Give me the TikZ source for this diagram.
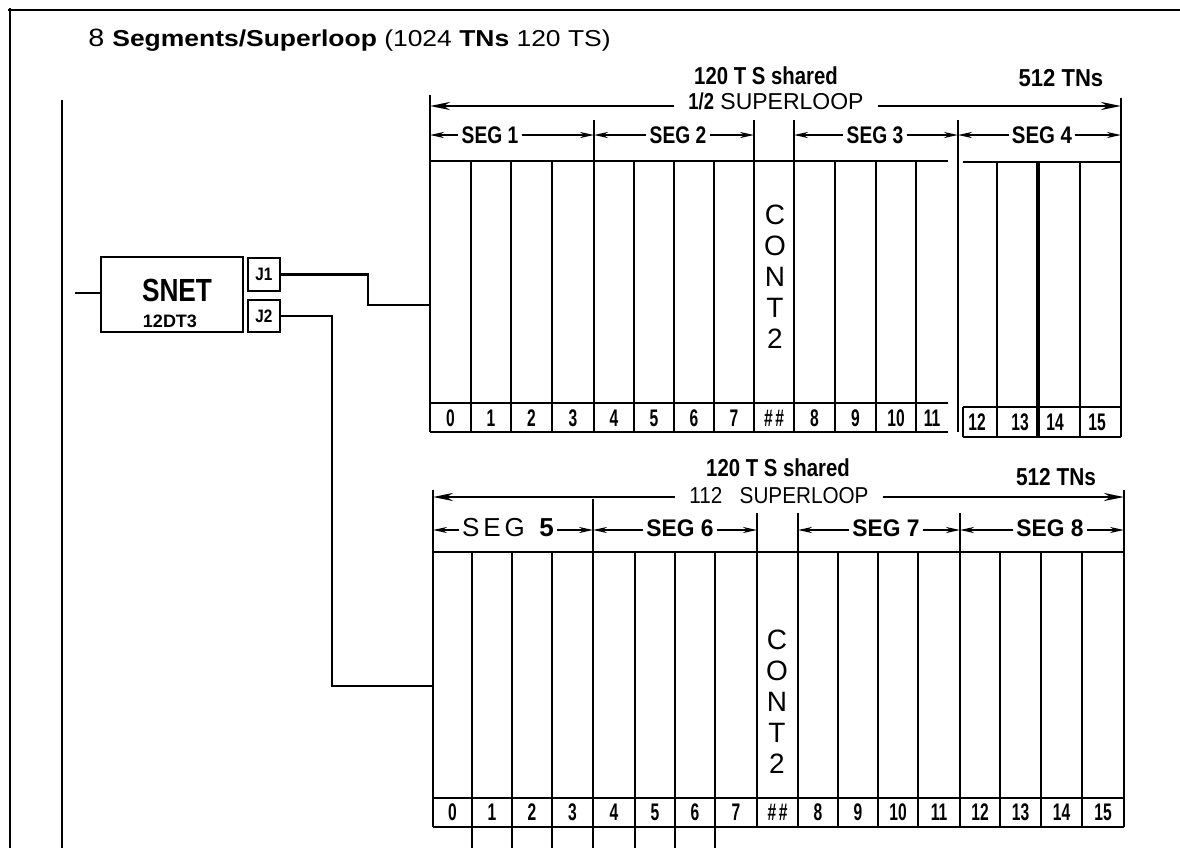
\documentclass[tikz,border=0pt]{standalone}
\usepackage{fontspec}
\setmainfont{Liberation Sans}
\usetikzlibrary{arrows.meta}
\newcommand\sx[2]{\scalebox{#1}[1]{#2}}
\begin{document}
\begin{tikzpicture}[x=0.5pt,y=-0.5pt,
  rack/.style={line width=1.4pt},
  thinrack/.style={line width=1.0pt},
  wire/.style={line width=1.1pt},
  frame/.style={line width=1.1pt},
  segarr/.style={line width=1pt,-{Stealth[length=7pt,width=3pt]}},
  bigarr/.style={line width=1.3pt,-{Stealth[length=10pt,width=4pt]}},
  biglbl/.style={inner xsep=7pt,inner ysep=0pt,font=\fontsize{11.5}{12}\selectfont},
  seglbl/.style={inner sep=1.5pt,font=\fontsize{12}{13}\selectfont\bfseries},
  numlbl/.style={inner sep=0pt,font=\fontsize{12}{13}\selectfont\bfseries},
  hdr/.style={inner sep=0pt,font=\fontsize{12.25}{13}\selectfont\bfseries},
  contlbl/.style={align=center,inner sep=0pt,font=\fontsize{14}{15.5}\selectfont},
  box/.style={draw,line width=1.3pt,inner sep=0pt}
]
\useasboundingbox (0,0) rectangle (1180,848);

% frame
\draw[frame] (8,10) -- (1180,10);
\draw[frame] (10,8) -- (10,848);
\draw[frame] (62,100) -- (62,848);

% title
\node[anchor=base west,inner sep=0pt,font=\fontsize{11.5}{12}\selectfont] (title) at (88,46)
  {\sx{1.15}{\fontsize{12.5}{13}\selectfont 8 \fontsize{11.5}{12}\selectfont\textbf{Segments/Superloop} (1024 \textbf{TNs} 120 TS)}};

% ---------- SNET ----------
\node[box,minimum width=71pt,minimum height=37.5pt] (snet) at (172,294.5) {};
\node[inner sep=0pt,font=\fontsize{16}{17}\selectfont\bfseries] (snett) at (177,290) {\sx{0.82}{SNET}};
\node[inner sep=0pt,font=\fontsize{9}{10}\selectfont\bfseries] (snets) at (170,321.5) {12DT3};
\node[box,minimum width=16pt,minimum height=16.5pt,font=\fontsize{9}{10}\selectfont\bfseries] (j1) at (264,274.5) {\sx{0.85}{J1}};
\node[box,minimum width=16pt,minimum height=16pt,font=\fontsize{9}{10}\selectfont\bfseries] (j2) at (264,316) {\sx{0.85}{J2}};
\coordinate (snetin) at (75,293);
\draw[wire] (snetin) -- (snet.west |- snetin);

% ---------- TOP RACK ----------
\node[hdr] (h1) at (766,76) {\sx{0.83}{120 T S shared}};
\node[hdr] (h2) at (1061,78) {\sx{0.9}{512 TNs}};
\node[biglbl] (sl1) at (776,101) {\sx{0.8}{\bfseries 1/2} SUPERLOOP};
\coordinate (a1l) at (430,106);
\coordinate (a1r) at (1121,106);
\draw[bigarr] (sl1.west |- a1l) -- (a1l);
\draw[bigarr] (sl1.east |- a1r) -- (a1r);

% segment labels
\node[seglbl] (sg1) at (490,135) {\sx{0.8}{SEG 1}};
\node[seglbl] (sg2) at (678,135) {\sx{0.8}{SEG 2}};
\node[seglbl] (sg3) at (875,135) {\sx{0.8}{SEG 3}};
\node[seglbl] (sg4) at (1042,135) {\sx{0.85}{SEG 4}};
\coordinate (t0) at (430,135);
\coordinate (t1) at (594,135);
\coordinate (t2) at (754,135);
\coordinate (t3) at (794,135);
\coordinate (t4) at (958,135);
\coordinate (t5) at (1121,135);
\draw[segarr] (sg1.west) -- (t0);
\draw[segarr] (sg1.east) -- (t1);
\draw[segarr] (sg2.west) -- (t1);
\draw[segarr] (sg2.east) -- (t2);
\draw[segarr] (sg3.west) -- (t3);
\draw[segarr] (sg3.east) -- (t4);
\draw[segarr] (sg4.west) -- (t4);
\draw[segarr] (sg4.east) -- (t5);

% rack lines
\draw[rack] (430,95) -- (430,432);
\draw[rack] (594,120) -- (594,432);
\draw[rack] (754,120) -- (754,432);
\draw[rack] (794,120) -- (794,432);
\draw[thinrack] (958,120) -- (958,432);
\draw[rack] (1121,98) -- (1121,437);
\foreach \x in {471,511,552,634,674,714,835,876,916}
  \draw[rack] (\x,161) -- (\x,432);
\draw[rack] (430,161) -- (948,161);
\draw[rack] (430,403) -- (948,403);
\draw[rack] (430,432) -- (948,432);
\foreach \x in {997,1080}
  \draw[rack] (\x,162) -- (\x,437);
\draw[line width=2.2pt] (1038,162) -- (1038,437);
\draw[rack] (963,162) -- (1121,162);
\draw[rack] (963,407) -- (1121,407);
\draw[rack] (963,437) -- (1121,437);
\draw[rack] (963,407) -- (963,437);

% slot numbers
\foreach \c/\t/\yy [count=\i] in {450.5/0/418,491/1/418,531.5/2/418,573/3/418,614/4/418,654/5/418,694/6/418,734/7/418,774/{\#\,\#}/418,814.5/8/418,855.5/9/418,896/10/418,932/11/418,977/12/422,1020/13/422,1055/14/422,1097/15/422}
  \node[numlbl] (tn\i) at (\c,\yy) {\sx{0.65}{\t}};

\node[contlbl] (cont1) at (775,277) {C\\O\\N\\T\\2};

\coordinate (r1in) at (430,305);
\draw[wire] (j1.east) -| (368,305) -- (r1in);

% ---------- BOTTOM RACK ----------
\node[hdr] (h3) at (778,468) {\sx{0.83}{120 T S shared}};
\node[hdr] (h4) at (1056,477) {\sx{0.85}{512 TNs}};
\node[biglbl] (sl2) at (779,496) {\sx{0.9}{112\ \ \ SUPERLOOP}};
\coordinate (a2l) at (433,497);
\coordinate (a2r) at (1124,497);
\draw[bigarr] (sl2.west |- a2l) -- (a2l);
\draw[bigarr] (sl2.east |- a2r) -- (a2r);

\node[seglbl,font=\fontsize{13}{14}\selectfont] (sg5) at (508,528) {{\addfontfeature{LetterSpace=15}SEG}\ \ \textbf{5}};
\node[seglbl] (sg6) at (680,528) {\sx{0.95}{SEG 6}};
\node[seglbl] (sg7) at (886,528) {\sx{0.95}{SEG 7}};
\node[seglbl] (sg8) at (1050,528) {\sx{0.95}{SEG 8}};
\coordinate (u0) at (433,530);
\coordinate (u1) at (593,530);
\coordinate (u2) at (757,530);
\coordinate (u3) at (798,530);
\coordinate (u4) at (960,530);
\coordinate (u5) at (1124,530);
\draw[segarr] (sg5.west |- u0) -- (u0);
\draw[segarr] (sg5.east |- u1) -- (u1);
\draw[segarr] (sg6.west |- u1) -- (u1);
\draw[segarr] (sg6.east |- u2) -- (u2);
\draw[segarr] (sg7.west |- u3) -- (u3);
\draw[segarr] (sg7.east |- u4) -- (u4);
\draw[segarr] (sg8.west |- u4) -- (u4);
\draw[segarr] (sg8.east |- u5) -- (u5);

\draw[rack] (433,490) -- (433,827);
\draw[thinrack] (593,499) -- (593,552);
\draw[rack] (593,552) -- (593,827);
\draw[rack] (757,513) -- (757,827);
\draw[rack] (798,513) -- (798,827);
\draw[rack] (960,513) -- (960,827);
\draw[rack] (1124,490) -- (1124,827);
\foreach \x in {472,512,552,635,675,715,838,878,918,1000,1041,1082}
  \draw[rack] (\x,552) -- (\x,827);
\draw[rack] (433,552) -- (1124,552);
\draw[rack] (433,798) -- (1124,798);
\draw[rack] (433,827) -- (1124,827);
\foreach \x in {472,512,552,593,635,675,715}
  \draw[thinrack] (\x,827) -- (\x,848);

\foreach \c/\t [count=\i] in {452.5/0,492/1,532/2,572.5/3,614/4,655/5,695/6,736/7,777.5/{\#\,\#},818/8,858/9,898/10,939/11,980/12,1020.5/13,1061.5/14,1103/15}
  \node[numlbl] (bn\i) at (\c,812.5) {\sx{0.65}{\t}};

\node[contlbl] (cont2) at (777,702) {C\\O\\N\\T\\2};

\coordinate (r2in) at (433,686);
\draw[wire] (j2.east) -| (332,686) -- (r2in);
\end{tikzpicture}
\end{document}
